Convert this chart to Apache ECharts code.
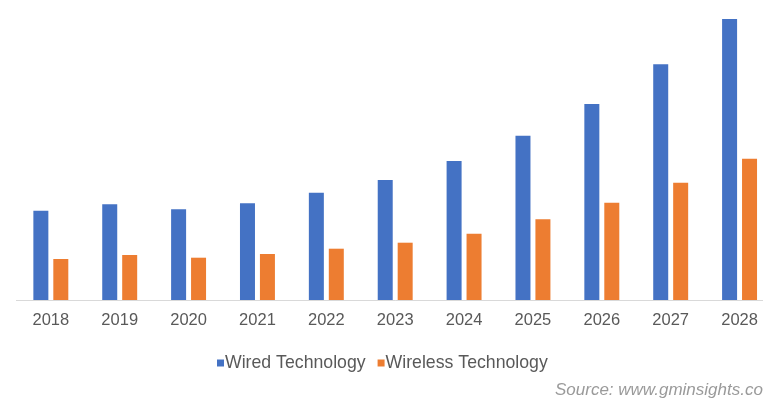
<!DOCTYPE html>
<html>
<head>
<meta charset="utf-8">
<script src="https://cdn.jsdelivr.net/npm/echarts@6/dist/echarts.min.js"></script>
<style>
html,body{margin:0;padding:0;background:#fff;overflow:hidden;width:763px;height:398px;}
#c{width:774px;height:398px;}
</style>
</head>
<body>
<div id="c"></div>
<script>
var years = ['2018','2019','2020','2021','2022','2023','2024','2025','2026','2027','2028'];
var wired = [89.3, 95.7, 90.7, 96.7, 107.3, 120, 139, 164.3, 196, 235.7, 281];
var wireless = [41, 45, 42.3, 46, 51.3, 57.3, 66.3, 80.7, 97.3, 117.3, 141.3];
var seriesNames = ['Wired Technology', 'Wireless Technology'];
var sourceText = 'Source: www.gminsights.com';

var chart = echarts.init(document.getElementById('c'), null, {renderer: 'canvas'});
chart.setOption({
  animation: false,
  backgroundColor: '#ffffff',
  textStyle: {fontFamily: 'Liberation Sans, Arial, sans-serif'},
  grid: {left: 16.4, right: 0, top: 0, bottom: 98, containLabel: false},
  legend: {
    data: seriesNames,
    left: 212,
    top: 349,
    icon: 'rect',
    itemWidth: 7,
    itemHeight: 7,
    itemGap: 12,
    textStyle: {color: '#595959', fontSize: 17.7, padding: [0,0,0,-4]}
  },
  xAxis: {
    type: 'category',
    data: years,
    axisLine: {lineStyle: {color: '#d9d9d9', width: 1}},
    axisTick: {show: false},
    axisLabel: {color: '#595959', fontSize: 16.5, margin: 12}
  },
  yAxis: {
    type: 'value',
    min: 0,
    max: 300,
    show: false
  },
  series: [
    {name: seriesNames[0], type: 'bar', data: wired, barWidth: 15, barGap: '33%', itemStyle: {color: '#4472C4'}},
    {name: seriesNames[1], type: 'bar', data: wireless, barWidth: 15, barGap: '33%', itemStyle: {color: '#ED7D31'}}
  ],
  graphic: [{
    type: 'text',
    left: 555,
    top: 382,
    style: {text: sourceText, fill: '#9a9a9a', font: 'italic 17px Liberation Sans, Arial, sans-serif'}
  }]
});
</script>
</body>
</html>
